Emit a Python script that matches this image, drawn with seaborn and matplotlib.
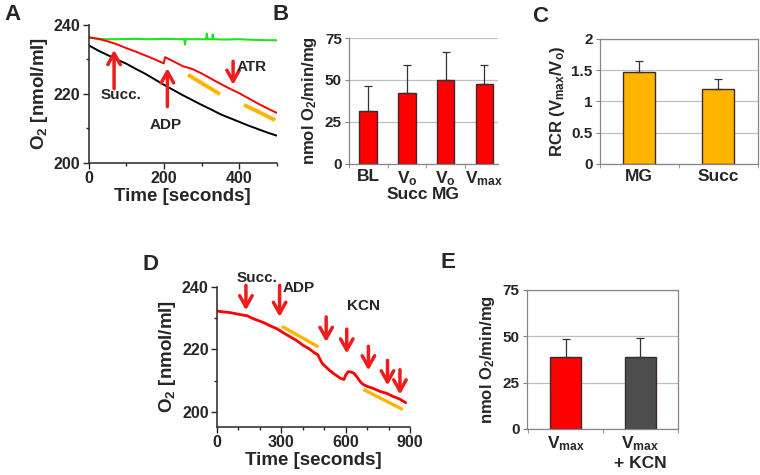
import numpy as np
import pandas as pd
import matplotlib
matplotlib.use("Agg")
import matplotlib.pyplot as plt
import seaborn as sns

# ---- panel A: O2 traces ----
a_time = [0, 25, 50, 75, 100, 125, 150, 175, 200, 225, 250, 275, 300, 325, 350, 375, 400, 425, 450, 475, 500]
a_black = [234.0, 232.5, 231.2, 229.9, 228.7, 227.2, 225.8, 224.2, 222.6, 221.1, 219.6, 218.2,
           216.8, 215.5, 214.1, 213.0, 211.9, 210.8, 209.8, 208.8, 207.9]
a_red_time = [0, 25, 50, 75, 100, 125, 150, 175, 199, 203, 225, 250, 275, 300, 325, 350, 375, 400, 425, 450, 475, 500]
a_red = [236.3, 235.9, 235.2, 234.3, 233.2, 232.2, 231.1, 230.0, 228.8, 230.6, 229.4, 228.0, 227.2,
         225.9, 224.4, 222.9, 221.5, 220.2, 218.7, 217.2, 215.8, 214.5]
a_green_time = [0, 20, 40, 80, 120, 160, 200, 240, 254, 256, 258, 290, 312, 314, 316, 328, 330, 332, 360, 400, 440, 480, 500]
a_green = [236.4, 236.0, 235.8, 235.8, 235.9, 235.8, 235.9, 235.8, 235.8, 234.3, 235.8, 235.8, 235.8,
           237.4, 235.8, 235.8, 237.2, 235.8, 235.7, 235.8, 235.6, 235.5, 235.5]
a_fit_time = [[264, 349], [413, 496]]
a_fit_o2 = [[225.5, 219.9], [216.8, 212.4]]
a_events = ["Succ.", "ADP", "ATR"]
a_event_time = [67, 209, 384]
a_arrow_from = [221.5, 216.3, 229.4]
a_arrow_to = [232.7, 227.4, 222.6]
a_label_time = [86, 204, 433]
a_label_o2 = [219.8, 211.0, 227.9]

# ---- panel B: respiration rates ----
b_keys = ["BL", "Vo Succ", "Vo MG", "Vmax"]
b_ticks = ["BL", "V$_o$", "V$_o$", "V$_{max}$"]
b_sub = ["", "Succ", "MG", ""]
b_rate = [31.5, 42.5, 50.0, 47.5]
b_err = [15.0, 16.5, 16.5, 11.5]

# ---- panel C: RCR ----
c_keys = ["MG", "Succ"]
c_rcr = [1.47, 1.20]
c_err = [0.17, 0.16]

# ---- panel D: O2 trace with KCN titration ----
d_time = [0, 30, 60, 90, 120, 140, 160, 190, 220, 250, 280, 310, 340, 370, 400, 430, 455, 470, 478,
          490, 505, 525, 550, 575, 592, 600, 612, 625, 640, 655, 668, 680, 700, 730, 760, 790, 820, 850, 880]
d_o2 = [232.3, 232.0, 231.8, 231.4, 231.0, 230.8, 230.1, 229.3, 228.5, 227.5, 226.6, 225.3, 224.1,
        222.9, 221.4, 220.2, 218.9, 218.3, 217.2, 215.6, 214.6, 213.3, 212.0, 210.8, 210.4, 211.8,
        212.9, 212.8, 212.3, 211.0, 209.7, 208.9, 208.2, 207.5, 206.6, 206.0, 205.0, 204.2, 203.0]
d_fit_time = [[303, 473], [683, 866]]
d_fit_o2 = [[227.4, 220.8], [207.2, 200.8]]
d_arrow_time = [135, 292, 509, 605, 706, 795, 853]
d_arrow_from = [240.5, 240.5, 230.4, 226.5, 221.0, 216.5, 213.5]
d_arrow_to = [232.5, 230.4, 222.4, 218.7, 213.3, 208.5, 205.6]
d_labels = ["Succ.", "ADP", "KCN"]
d_label_time = [185, 382, 684]
d_label_o2 = [243.0, 239.5, 233.8]

# ---- panel E: Vmax +/- KCN ----
e_keys = ["Vmax", "Vmax + KCN"]
e_ticks = ["V$_{max}$", "V$_{max}$\n+ KCN"]
e_rate = [39.0, 38.5]
e_err = [9.5, 10.5]

RED = "#ff0000"
ARROW = "#ee1c1c"
ORANGE = "#ffb400"
GRID = "#c0c0c0"
SPINE = "#868686"

sns.set_style("ticks")
plt.rcParams["font.family"] = ["Liberation Sans", "DejaVu Sans"]
plt.rcParams["font.weight"] = "bold"
plt.rcParams["axes.labelweight"] = "bold"
plt.rcParams["mathtext.fontset"] = "custom"
plt.rcParams["mathtext.rm"] = "Liberation Sans:bold"
plt.rcParams["mathtext.it"] = "Liberation Sans:bold"
plt.rcParams["mathtext.bf"] = "Liberation Sans:bold"
plt.rcParams["mathtext.default"] = "rm"


def arrows(ax, xs, y0s, y1s):
    for x, y0, y1 in zip(xs, y0s, y1s):
        ax.annotate("", xy=(x, y1), xytext=(x, y0),
                    arrowprops=dict(arrowstyle="->,head_width=0.45,head_length=0.8",
                                    color=ARROW, lw=2.5, shrinkA=0, shrinkB=0))


def trace_axes(ax):
    sns.despine(ax=ax)
    ax.tick_params(which="major", length=4, width=1, labelsize=11.5, pad=2)
    ax.tick_params(which="minor", length=2.5, width=1)
    for s in ["left", "bottom"]:
        ax.spines[s].set_linewidth(1.1)


def bar_axes(ax, box):
    for s in ax.spines.values():
        s.set_color(SPINE)
        s.set_linewidth(0.9)
    if not box:
        ax.spines["top"].set_visible(False)
        ax.spines["right"].set_visible(False)
    ax.yaxis.grid(True, color=GRID, lw=0.9)
    ax.set_axisbelow(True)
    ax.tick_params(axis="y", length=3, color=SPINE, labelsize=11, pad=2)
    ax.tick_params(axis="x", which="major", length=0, labelsize=12.5, pad=4)
    ax.tick_params(axis="x", which="minor", length=3, color=SPINE)
    ax.set_xlabel("")


def bars(ax, keys, vals, errs, colors, width):
    df = pd.DataFrame({"k": keys, "v": vals})
    sns.barplot(data=df, x="k", y="v", hue="k", palette=colors, legend=False, saturation=1,
                width=width, edgecolor="#3a2a2a", linewidth=1.0, ax=ax)
    ax.errorbar(range(len(keys)), vals, yerr=[np.zeros(len(vals)), errs], fmt="none",
                ecolor="#333333", elinewidth=0.9, capsize=3, capthick=0.9)
    ax.set_xticks(np.arange(len(keys) + 1) - 0.5, minor=True)


fig = plt.figure(figsize=(7.6, 4.75), dpi=100)

# A
ax = fig.add_axes([0.117, 0.657, 0.247, 0.291])
sns.lineplot(x=a_green_time, y=a_green, color="#22e022", lw=1.5, estimator=None, ax=ax)
sns.lineplot(x=a_time, y=a_black, color="black", lw=1.4, estimator=None, ax=ax)
sns.lineplot(x=a_red_time, y=a_red, color=RED, lw=1.4, estimator=None, ax=ax)
for t, o in zip(a_fit_time, a_fit_o2):
    ax.plot(t, o, color=ORANGE, lw=2.8, solid_capstyle="butt")
arrows(ax, a_event_time, a_arrow_from, a_arrow_to)
for lab, t, o in zip(a_events, a_label_time, a_label_o2):
    ax.text(t, o, lab, ha="center", va="center", fontsize=11, fontweight="bold")
ax.set_xlim(0, 500)
ax.set_ylim(200, 240)
ax.set_xticks([0, 200, 400])
ax.set_xticks([100, 300, 500], minor=True)
ax.set_yticks([200, 220, 240])
ax.set_yticks([210, 230], minor=True)
ax.set_xlabel("Time [seconds]", fontsize=13.5, labelpad=1)
ax.set_ylabel("O$_2$ [nmol/ml]", fontsize=13.5, labelpad=3)
trace_axes(ax)

# B
ax = fig.add_axes([0.459, 0.655, 0.196, 0.265])
bars(ax, b_keys, b_rate, b_err, [RED] * 4, 0.45)
ax.set_xticks(range(4), labels=b_ticks)
for i, s in enumerate(b_sub):
    ax.text(i, -0.18, s, transform=ax.get_xaxis_transform(), ha="center", va="top",
            fontsize=12.5, fontweight="bold")
ax.set_xlim(-0.5, 3.35)
ax.set_ylim(0, 75)
ax.set_yticks([0, 25, 50, 75])
ax.set_ylabel("nmol O$_2$/min/mg", fontsize=12, labelpad=4)
bar_axes(ax, box=False)

# C
ax = fig.add_axes([0.789, 0.655, 0.208, 0.263])
bars(ax, c_keys, c_rcr, c_err, [ORANGE] * 2, 0.4)
ax.set_xticks(range(2), labels=c_keys)
ax.set_xlim(-0.5, 1.5)
ax.set_ylim(0, 2)
ax.set_yticks([0, 0.5, 1, 1.5, 2], labels=["0", "0.5", "1", "1.5", "2"])
ax.set_ylabel("RCR (V$_{max}$/V$_o$)", fontsize=12, labelpad=3)
bar_axes(ax, box=True)

# D
ax = fig.add_axes([0.2855, 0.101, 0.254, 0.295])
sns.lineplot(x=d_time, y=d_o2, color=RED, lw=2.0, estimator=None, ax=ax)
for t, o in zip(d_fit_time, d_fit_o2):
    ax.plot(t, o, color=ORANGE, lw=2.4, solid_capstyle="butt")
arrows(ax, d_arrow_time, d_arrow_from, d_arrow_to)
for lab, t, o in zip(d_labels, d_label_time, d_label_o2):
    ax.text(t, o, lab, ha="center", va="center", fontsize=11, fontweight="bold", clip_on=False)
ax.set_xlim(0, 900)
ax.set_ylim(195.2, 240)
ax.set_xticks([0, 300, 600, 900])
ax.set_xticks([100, 200, 400, 500, 700, 800], minor=True)
ax.set_yticks([200, 220, 240])
ax.set_yticks([210, 230], minor=True)
ax.set_xlabel("Time [seconds]", fontsize=13.5, labelpad=1)
ax.set_ylabel("O$_2$ [nmol/ml]", fontsize=13.5, labelpad=3)
trace_axes(ax)

# E
ax = fig.add_axes([0.693, 0.097, 0.199, 0.293])
bars(ax, e_keys, e_rate, e_err, [RED, "#4d4d4d"], 0.41)
ax.set_xticks(range(2), labels=e_ticks)
ax.set_xlim(-0.52, 1.5)
ax.set_ylim(0, 75)
ax.set_yticks([0, 25, 50, 75])
ax.set_ylabel("nmol O$_2$/min/mg", fontsize=12, labelpad=4)
bar_axes(ax, box=True)

for lab, x, y in [("A", 4, 20), ("B", 272, 20), ("C", 532, 22), ("D", 143, 270), ("E", 440, 268)]:
    fig.text(x / 760, 1 - y / 475, lab, fontsize=16, fontweight="bold", va="baseline")

fig.savefig("out.png", dpi=100)
